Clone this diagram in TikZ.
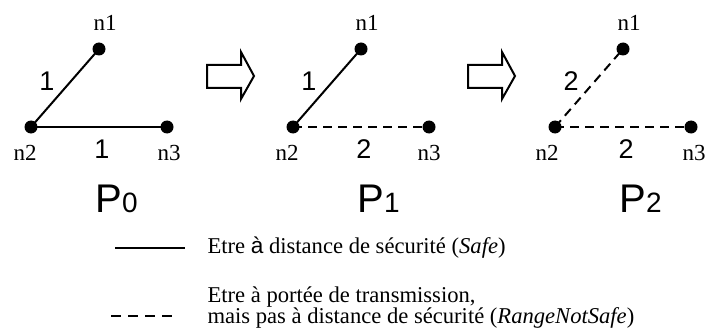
\documentclass[tikz,border=0pt]{standalone}
\usepackage{fontspec}
\setmainfont{Liberation Serif}
\setsansfont{Liberation Sans}
\usepackage{tikz}
\usetikzlibrary{arrows.meta,positioning}

\tikzset{
  dot/.style={circle,fill=black,inner sep=0pt,minimum size=13pt},
  safeline/.style={line width=2pt},
  rangeline/.style={line width=2pt,dash pattern=on 9pt off 6pt},
  nlab/.style={anchor=base,font=\fontsize{23}{23}\selectfont},
  elab/.style={anchor=base,font=\sffamily\fontsize{27}{27}\selectfont},
  plab/.style={anchor=base west,font=\sffamily\fontsize{40}{40}\selectfont},
  legtext/.style={anchor=base west,align=left,font=\fontsize{22.6}{21}\selectfont},
  blockarrow/.style={line width=2pt,miter limit=20}
}

\begin{document}
\begin{tikzpicture}[x=1pt,y=-1pt]
\useasboundingbox (0,0) rectangle (706,334);
% the three states
\foreach \i/\dx/\sa/\sb/\la/\lb/\nx/\ny in {
  0/0/safeline/safeline/1/1/0/0,
  1/262/safeline/rangeline/1/2/0/-2,
  2/524/rangeline/rangeline/2/2/-2/1} {
  \node[dot] (n1-\i) at (99+\dx,49) {};
  \node[dot] (n2-\i) at (31+\dx,127) {};
  \node[dot] (n3-\i) at (167+\dx,127) {};
  \draw[\sa] (n2-\i.center) -- (n1-\i.center);
  \draw[\sb] (n2-\i.center) -- (n3-\i.center);
  \node[nlab] (t1-\i) at (105+\dx,31) {n1};
  \node[nlab] (t2-\i) at (25+\dx+\nx,160) {n2};
  \node[nlab] (t3-\i) at (169+\dx+\ny,160) {n3};
  \node[elab] (e1-\i) at (47+\dx,91) {\la};
  \node[elab] (e2-\i) at (102+\dx,158) {\lb};
  \node[plab] (p-\i) at (92+\dx,212) {P{\fontsize{28}{28}\selectfont \i}};
}
% transitions
\foreach \sx in {0,261} {
  \draw[blockarrow,shift={(\sx,0)}] (207,65) -- (241,65) -- (241,52) -- (254,76)
    -- (241,99) -- (241,88) -- (207,88) -- cycle;
}
% legend
\coordinate (ls-a) at (115,248);
\coordinate (ls-b) at (185,248);
\coordinate (lr-a) at (111,316);
\coordinate (lr-b) at (172,316);
\draw[safeline] (ls-a) -- (ls-b);
\draw[line width=2pt,dash pattern=on 10pt off 7pt] (lr-a) -- (lr-b);
\node[legtext] (leg-safe) at (204,253) {Etre {\sffamily à} distance de sécurité (\textit{Safe})};
\node[legtext] (leg-range) at (204,323) {Etre à portée de transmission,\\mais pas à distance de sécurité (\textit{RangeNotSafe})};
\end{tikzpicture}
\end{document}
